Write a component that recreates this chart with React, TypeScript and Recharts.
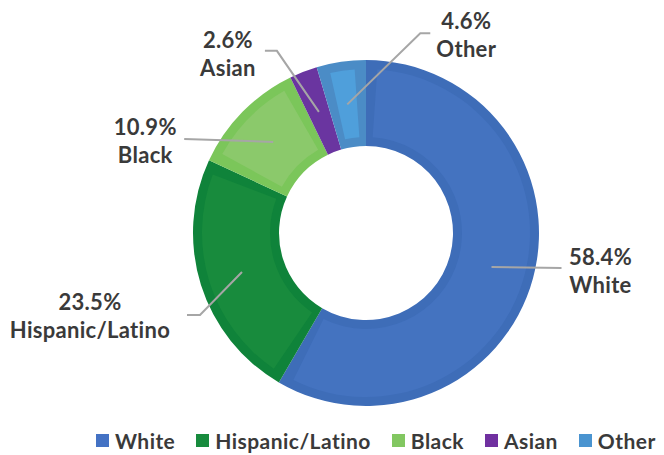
import { PieChart, Pie, Cell, Legend, Sector } from 'recharts';

const categories = ['White', 'Hispanic/Latino', 'Black', 'Asian', 'Other'];
const shares = [58.4, 23.5, 10.9, 2.6, 4.6];

// darker rim and lighter inner panel, like the bevelled office donut
const edgeColors = ['#3e6db8', '#0f833a', '#7bc65a', '#6a35a0', '#4b8cc6'];
const panelColors = ['#4473c0', '#188b3d', '#8bc96b', '#6a35a0', '#4f9fdb'];
const legendColors = ['#4472c4', '#178b3d', '#82c761', '#7030a0', '#4a94d0'];

const data = categories.map((name, i) => ({ name, value: shares[i] }));

// leader line segments (dx, dy) starting on the ring, then text offset from the line end
const leaders = [
  { segs: [[70, 1]], text: [39, -12] },
  { segs: [[-42, 43], [-13, 0]], text: [-97, -14] },
  { segs: [[-89, -3]], text: [-39, -13] },
  { segs: [[-42, -61], [-12, 0]], text: [-37, -12] },
  { segs: [[73, -71], [10, 0]], text: [36, -13] },
];

const RAD = Math.PI / 180;
const FONT = 'Lato, "Open Sans", sans-serif';
const BEVEL = 9;

const renderLabel = (props: any) => {
  const { cx, cy, midAngle, innerRadius, outerRadius, startAngle, endAngle, index } = props;
  const rMid = (innerRadius + outerRadius) / 2;
  let x = cx + rMid * Math.cos(-midAngle * RAD);
  let y = cy + rMid * Math.sin(-midAngle * RAD);
  const pts = [[x, y]];
  leaders[index].segs.forEach(([dx, dy]) => {
    x += dx;
    y += dy;
    pts.push([x, y]);
  });
  const tx = x + leaders[index].text[0];
  const ty = y + leaders[index].text[1];

  const span = Math.abs(endAngle - startAngle);
  const inset = BEVEL / rMid / RAD;
  const dir = endAngle < startAngle ? -1 : 1;
  const panel =
    span > 12 ? (
      <Sector
        cx={cx}
        cy={cy}
        innerRadius={innerRadius + BEVEL}
        outerRadius={outerRadius - BEVEL}
        startAngle={startAngle + dir * inset}
        endAngle={endAngle - dir * inset}
        fill={panelColors[index]}
        stroke="none"
      />
    ) : null;

  return (
    <g>
      {panel}
      <polyline
        points={pts.map((p) => p.join(',')).join(' ')}
        fill="none"
        stroke="#a6a6a6"
        strokeWidth={2}
      />
      <text
        x={tx}
        y={ty}
        textAnchor="middle"
        dominantBaseline="central"
        fill="#3a3a3a"
        style={{ fontFamily: FONT, fontWeight: 700, fontSize: 22, letterSpacing: 0.3 }}
      >
        <tspan x={tx} y={ty}>{`${shares[index].toFixed(1)}%`}</tspan>
        <tspan x={tx} y={ty + 28}>{categories[index]}</tspan>
      </text>
    </g>
  );
};

const renderLegend = () => (
  <div
    style={{
      display: 'flex',
      alignItems: 'center',
      paddingLeft: 96,
      gap: 21,
      fontFamily: FONT,
      fontWeight: 700,
      fontSize: 21,
      letterSpacing: 0.45,
      color: '#3a3a3a',
      whiteSpace: 'nowrap',
    }}
  >
    {categories.map((c, i) => (
      <span key={c} style={{ display: 'flex', alignItems: 'center' }}>
        <span
          style={{
            width: 13,
            height: 13,
            background: legendColors[i],
            marginRight: 6,
            display: 'inline-block',
          }}
        />
        {c}
      </span>
    ))}
  </div>
);

export default function App() {
  return (
    <div style={{ position: 'absolute', left: 0, top: 0, width: 664, height: 455, background: '#fff', overflow: 'hidden' }}>
      <PieChart width={664} height={455} margin={{ top: 0, right: 0, bottom: 0, left: 0 }}>
        <Pie
          data={data}
          dataKey="value"
          nameKey="name"
          cx={366}
          cy={233}
          innerRadius={87}
          outerRadius={173}
          startAngle={90}
          endAngle={-270}
          stroke="none"
          label={renderLabel}
          labelLine={false}
          isAnimationActive={false}
        >
          {data.map((d, i) => (
            <Cell key={d.name} fill={edgeColors[i]} />
          ))}
        </Pie>
        <Legend
          verticalAlign="bottom"
          content={renderLegend}
          wrapperStyle={{ left: 0, bottom: 2, width: 664 }}
        />
      </PieChart>
    </div>
  );
}
